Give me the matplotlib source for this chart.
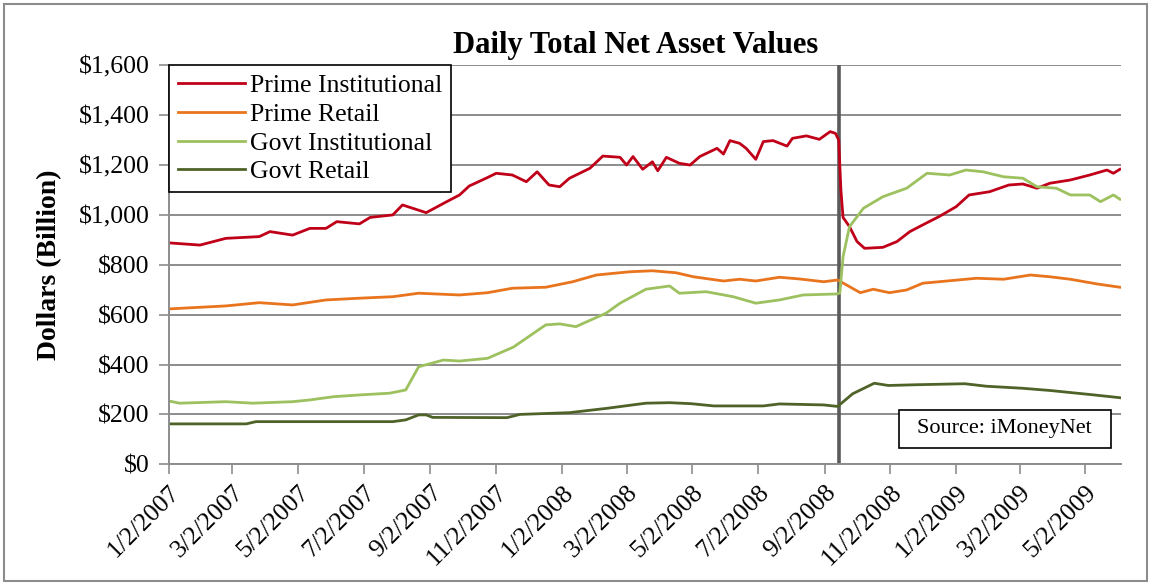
import matplotlib
matplotlib.use("Agg")
import matplotlib.pyplot as plt
from matplotlib.patches import Rectangle
from matplotlib.ticker import FuncFormatter
import pandas as pd

plt.rcParams["font.family"] = ["Liberation Serif", "DejaVu Serif"]

# values ($ billion)
prime_inst_dates = [
    "2007-01-02", "2007-01-31", "2007-02-24", "2007-03-27", "2007-04-06", "2007-04-27",
    "2007-05-13", "2007-05-28", "2007-06-07", "2007-06-28", "2007-07-08", "2007-07-29",
    "2007-08-07", "2007-08-29", "2007-09-17", "2007-09-29", "2007-10-08", "2007-10-25",
    "2007-11-02", "2007-11-17", "2007-11-30", "2007-12-10", "2007-12-21", "2007-12-31",
    "2008-01-09", "2008-01-28", "2008-02-09", "2008-02-25", "2008-03-02", "2008-03-08",
    "2008-03-17", "2008-03-26", "2008-03-31", "2008-04-08", "2008-04-20", "2008-04-30",
    "2008-05-09", "2008-05-25", "2008-05-31", "2008-06-06", "2008-06-15", "2008-06-21",
    "2008-06-30", "2008-07-07", "2008-07-16", "2008-07-29", "2008-08-03", "2008-08-16",
    "2008-08-28", "2008-09-07", "2008-09-12", "2008-09-15", "2008-09-17", "2008-09-19",
    "2008-09-25", "2008-10-02", "2008-10-09", "2008-10-26", "2008-11-08", "2008-11-20",
    "2008-12-02", "2008-12-17", "2009-01-02", "2009-01-14", "2009-02-02", "2009-02-20",
    "2009-03-05", "2009-03-18", "2009-03-30", "2009-04-18", "2009-05-06", "2009-05-22",
    "2009-05-28", "2009-06-03",
]
prime_inst = [
    888, 879, 906, 913, 933, 919,
    946, 946, 973, 964, 990, 1000,
    1040, 1009, 1053, 1080, 1116, 1150,
    1167, 1160, 1133, 1173, 1120, 1113,
    1147, 1187, 1236, 1231, 1200, 1234,
    1183, 1213, 1177, 1231, 1207, 1200,
    1234, 1267, 1244, 1298, 1287, 1267,
    1223, 1294, 1298, 1276, 1307, 1317,
    1303, 1334, 1327, 1300, 1100, 990,
    953, 893, 866, 870, 893, 933,
    960, 993, 1033, 1080, 1093, 1120,
    1124, 1107, 1127, 1140, 1160, 1180,
    1167, 1183,
]

prime_retail_dates = [
    "2007-01-02", "2007-02-24", "2007-03-27", "2007-04-27", "2007-05-28", "2007-06-28",
    "2007-07-29", "2007-08-22", "2007-09-29", "2007-10-25", "2007-11-17", "2007-12-18",
    "2008-01-12", "2008-02-03", "2008-03-05", "2008-03-26", "2008-04-17", "2008-05-03",
    "2008-05-31", "2008-06-15", "2008-06-30", "2008-07-22", "2008-08-10", "2008-09-01",
    "2008-09-14", "2008-10-05", "2008-10-17", "2008-11-01", "2008-11-17", "2008-12-02",
    "2008-12-27", "2009-01-21", "2009-02-15", "2009-03-12", "2009-03-30", "2009-04-18",
    "2009-05-13", "2009-06-03",
]
prime_retail = [
    623, 635, 648, 639, 659, 666,
    672, 686, 679, 688, 706, 710,
    732, 759, 772, 776, 768, 752,
    735, 742, 735, 750, 743, 732,
    739, 688, 702, 688, 699, 726,
    736, 746, 742, 759, 752, 742,
    723, 710,
]

govt_inst_dates = [
    "2007-01-02", "2007-01-12", "2007-02-24", "2007-03-21", "2007-04-27", "2007-05-13",
    "2007-06-04", "2007-06-28", "2007-07-26", "2007-08-10", "2007-08-22", "2007-09-14",
    "2007-09-29", "2007-10-25", "2007-11-18", "2007-12-18", "2007-12-31", "2008-01-15",
    "2008-02-12", "2008-02-25", "2008-03-20", "2008-04-11", "2008-04-20", "2008-05-15",
    "2008-06-09", "2008-06-30", "2008-07-22", "2008-08-13", "2008-09-13", "2008-09-16",
    "2008-09-19", "2008-09-25", "2008-10-08", "2008-10-26", "2008-11-17", "2008-12-06",
    "2008-12-27", "2009-01-11", "2009-01-27", "2009-02-15", "2009-03-05", "2009-03-18",
    "2009-04-05", "2009-04-18", "2009-05-06", "2009-05-16", "2009-05-28", "2009-06-03",
]
govt_inst = [
    254, 245, 251, 245, 251, 258,
    271, 278, 285, 298, 391, 418,
    414, 425, 470, 559, 563, 552,
    606, 646, 702, 715, 686, 692,
    672, 646, 659, 679, 683, 686,
    832, 953, 1027, 1073, 1107, 1167,
    1160, 1180, 1173, 1153, 1147, 1113,
    1107, 1080, 1080, 1053, 1080, 1063,
]

govt_retail_dates = [
    "2007-01-02", "2007-03-15", "2007-03-24", "2007-07-29", "2007-08-10", "2007-08-22",
    "2007-08-29", "2007-09-04", "2007-11-12", "2007-11-24", "2008-01-09", "2008-02-12",
    "2008-03-20", "2008-04-11", "2008-05-01", "2008-05-22", "2008-07-07", "2008-07-22",
    "2008-09-01", "2008-09-14", "2008-09-28", "2008-10-18", "2008-10-31", "2008-11-26",
    "2009-01-10", "2009-01-30", "2009-03-04", "2009-03-30", "2009-05-08", "2009-06-03",
]
govt_retail = [
    162, 162, 171, 171, 178, 198,
    198, 188, 187, 200, 207, 224,
    245, 247, 243, 234, 234, 242,
    238, 232, 283, 325, 316, 319,
    323, 313, 305, 296, 279, 267,
]

series_names = ["Prime Institutional", "Prime Retail", "Govt Institutional", "Govt Retail"]
series_colors = ["#C00018", "#E8741E", "#9CC15E", "#4F6228"]

tick_dates = ["2007-01-02", "2007-03-02", "2007-05-02", "2007-07-02", "2007-09-02",
              "2007-11-02", "2008-01-02", "2008-03-02", "2008-05-02", "2008-07-02",
              "2008-09-02", "2008-11-02", "2009-01-02", "2009-03-02", "2009-05-02"]
event_date = "2008-09-15"
x_start, x_end = "2007-01-02", "2009-06-04"

fig = plt.figure(figsize=(11.51, 5.84), dpi=100)
ax = fig.add_axes([0.1466, 0.205, 0.8273, 0.6832])

all_dates = [prime_inst_dates, prime_retail_dates, govt_inst_dates, govt_retail_dates]
all_vals = [prime_inst, prime_retail, govt_inst, govt_retail]
for d, v, name, c in zip(all_dates, all_vals, series_names, series_colors):
    ax.plot(pd.to_datetime(d), v, color=c, lw=2.0, label=name)

ax.axvline(pd.Timestamp(event_date), color="#5a5a5a", lw=2.6, zorder=1)

ax.set_ylim(0, 1600)
ax.set_yticks(range(0, 1601, 200))
ax.yaxis.set_major_formatter(FuncFormatter(lambda v, p: f"${v:,.0f}"))
ax.set_xlim(pd.Timestamp(x_start), pd.Timestamp(x_end))
ticks = pd.to_datetime(tick_dates)
ax.set_xticks(ticks)
ax.set_xticklabels([f"{t.month}/{t.day}/{t.year}" for t in ticks],
                   rotation=45, ha="right", rotation_mode="anchor")

ax.grid(axis="y", color="#8c8c8c", lw=1.4)
ax.set_axisbelow(True)
for s in ["top", "right"]:
    ax.spines[s].set_visible(False)
for s in ["left", "bottom"]:
    ax.spines[s].set_color("#8c8c8c")
    ax.spines[s].set_linewidth(1.4)
ax.tick_params(axis="both", direction="out", length=7, width=1.2, color="#8c8c8c",
               labelsize=18.5, pad=5)
ax.tick_params(axis="y", pad=7)

ax.set_ylabel("Dollars (Billion)", fontsize=20, fontweight="bold", labelpad=12)
fig.text(0.552, 0.922, "Daily Total Net Asset Values", ha="center", va="center",
         fontsize=22, fontweight="bold")

leg = ax.legend(loc="upper left", bbox_to_anchor=(0.0, 1.0), borderaxespad=0.0,
                fontsize=18.5, frameon=True, fancybox=False, framealpha=1,
                edgecolor="black", handlelength=2.6, handletextpad=0.2,
                labelspacing=0.22, borderpad=0.35)
leg.get_frame().set_linewidth(1.2)

ax.add_patch(Rectangle((0.767, 0.041), 0.2226, 0.0952, transform=ax.transAxes,
                       facecolor="white", edgecolor="black", lw=1.2, zorder=5))
ax.text(0.878, 0.0885, "Source: iMoneyNet", transform=ax.transAxes, ha="center",
        va="center", fontsize=16, zorder=6)

fig.add_artist(Rectangle((4 / 1151, 3 / 584), 1143 / 1151, 577 / 584,
                         transform=fig.transFigure, fill=False,
                         edgecolor="#8c8c8c", lw=1.5))

fig.savefig("out.png", dpi=100)
